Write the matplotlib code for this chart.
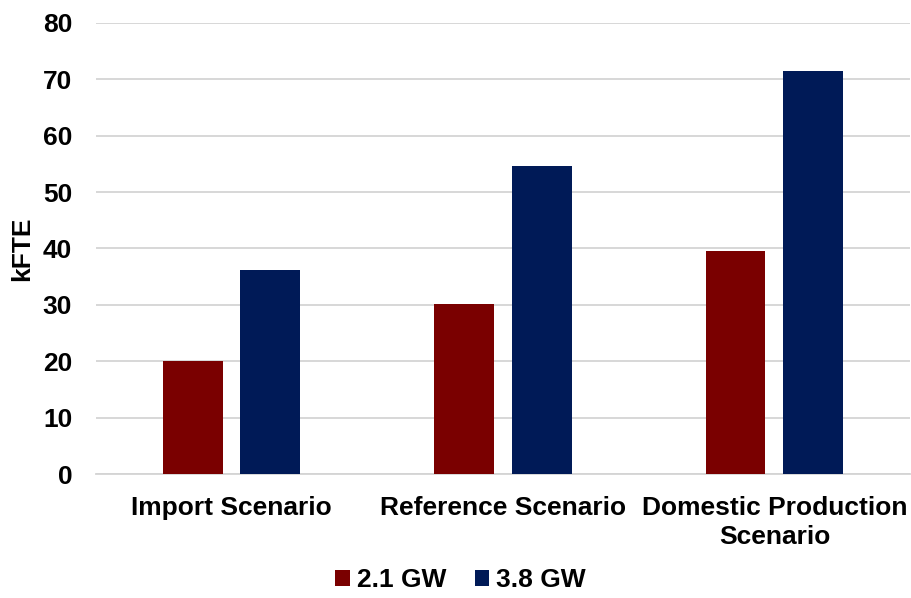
import numpy as np
import matplotlib.pyplot as plt

categories = ["Import Scenario", "Reference Scenario", "Domestic Production\nScenario"]
series_names = ["2.1 GW", "3.8 GW"]
gw_21 = [20.0, 30.2, 39.5]
gw_38 = [36.1, 54.6, 71.5]
colors = ["#7A0000", "#001A57"]

plt.rcParams['font.family'] = ['Liberation Sans', 'DejaVu Sans']
plt.rcParams['font.weight'] = 'bold'

fig = plt.figure(figsize=(9.12, 5.98), dpi=100)
ax = fig.add_axes([0.105, 0.207, 0.893, 0.755])

x = np.arange(len(categories))
w = 0.22
off = 0.143
ax.bar(x - off, gw_21, w, color=colors[0], label=series_names[0], zorder=3)
ax.bar(x + off, gw_38, w, color=colors[1], label=series_names[1], zorder=3)

ax.set_xlim(-0.5, 2.5)
ax.set_ylim(0, 80)
ax.set_yticks(range(0, 81, 10))
ax.set_xticks(x)
ax.set_xticklabels(categories, fontsize=19, fontweight='bold', linespacing=1.25)
ax.tick_params(axis='both', length=0, labelsize=19)
ax.tick_params(axis='y', pad=17)
ax.tick_params(axis='x', pad=16)
for lab in ax.get_yticklabels():
    lab.set_fontweight('bold')

ax.grid(axis='y', color='#d4d4d4', linewidth=1.3, zorder=0)
for s in ['top', 'right', 'left']:
    ax.spines[s].set_visible(False)
ax.spines['bottom'].set_color('#d4d4d4')
ax.spines['bottom'].set_linewidth(1.3)

ax.set_ylabel("kFTE", fontsize=19, fontweight='bold')
ax.yaxis.set_label_coords(-0.076, 0.5)

fig.legend(loc='center', bbox_to_anchor=(0.505, 0.03), ncol=2, frameon=False,
           prop={'size': 19, 'weight': 'bold'}, handlelength=0.55, handleheight=0.55,
           handletextpad=0.25, columnspacing=1.1)

fig.savefig("out.png", dpi=100)
